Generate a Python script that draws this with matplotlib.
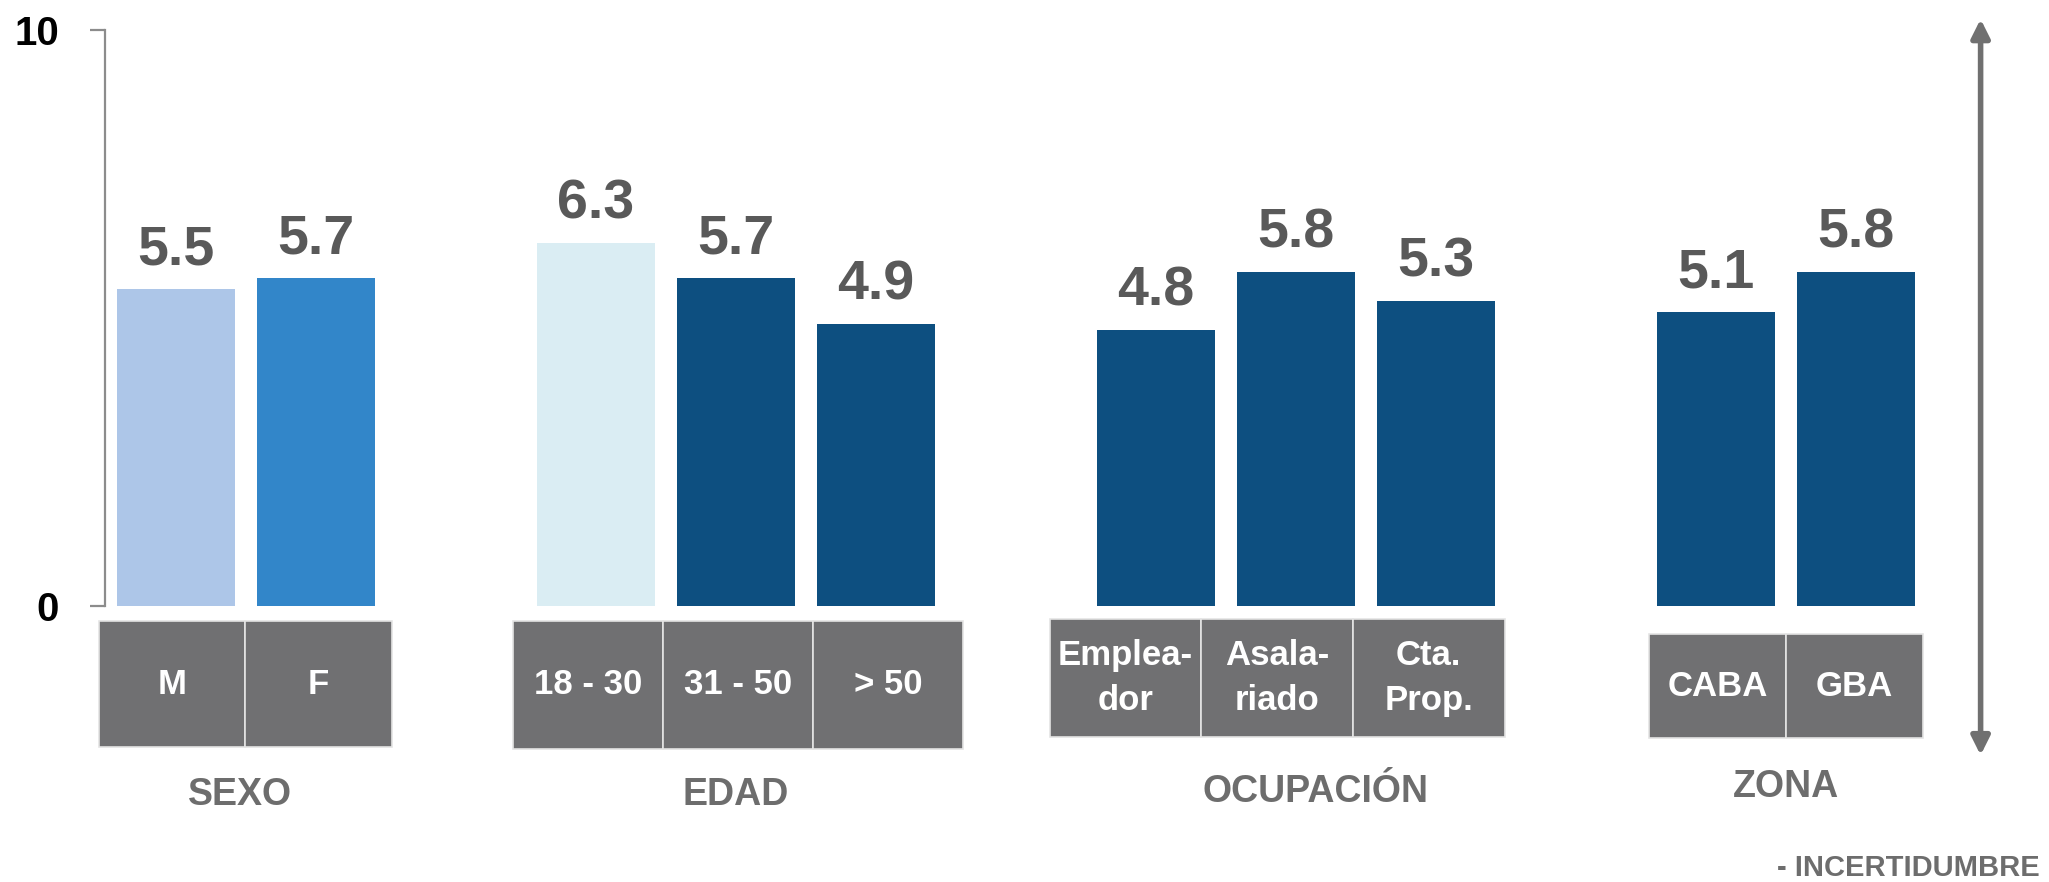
import matplotlib
matplotlib.use("Agg")
import matplotlib.pyplot as plt
from matplotlib.patches import Rectangle

plt.rcParams['font.family'] = ['Liberation Sans Narrow', 'Liberation Sans', 'DejaVu Sans']
plt.rcParams['font.weight'] = 'bold'

# data
groups = ['SEXO', 'EDAD', 'OCUPACIÓN', 'ZONA']
categories = [['M', 'F'],
              ['18 - 30', '31 - 50', '> 50'],
              ['Emplea-\ndor', 'Asala-\nriado', 'Cta.\nProp.'],
              ['CABA', 'GBA']]
values = [[5.5, 5.7],
          [6.3, 5.7, 4.9],
          [4.8, 5.8, 5.3],
          [5.1, 5.8]]
bar_colors = [['#adc6e8', '#3286c9'],
              ['#daedf3', '#0d4f80', '#0d4f80'],
              ['#0d4f80', '#0d4f80', '#0d4f80'],
              ['#0d4f80', '#0d4f80']]

# layout (data units: one slot per bar, one empty slot between groups)
box_x = [(-0.55, 1.54), (2.41, 5.62), (6.24, 9.49), (10.52, 12.48)]
box_y = [(-0.26, -2.45), (-0.26, -2.48), (-0.23, -2.27), (-0.49, -2.29)]
group_label_x = [0.46, 4.0, 8.14, 11.5]
group_label_y = [-3.28, -3.28, -3.23, -3.14]

W, H = 2049, 882
fig = plt.figure(figsize=(W / 100, H / 100), dpi=100)
ax = fig.add_axes([105 / W, (H - 606) / H, (W - 105) / W, 576 / H])

pos = 0
for g, (cats, vals, cols) in enumerate(zip(categories, values, bar_colors)):
    xs = list(range(pos, pos + len(vals)))
    bars = ax.bar(xs, vals, width=0.836, color=cols, zorder=2)
    ax.bar_label(bars, labels=[f'{v:.1f}' for v in vals], padding=9,
                 fontsize=40, color='#595959', fontweight='bold')

    # gray category boxes
    x0, x1 = box_x[g]
    ytop, ybot = box_y[g]
    cw = (x1 - x0) / len(cats)
    for i, c in enumerate(cats):
        ax.add_patch(Rectangle((x0 + i * cw, ybot), cw, ytop - ybot,
                               facecolor='#707072', edgecolor='#e4e4e4',
                               lw=1.2, clip_on=False, zorder=3))
        ax.text(x0 + (i + 0.5) * cw, (ytop + ybot) / 2, c, ha='center',
                va='center', color='white', fontsize=25, fontweight='bold',
                linespacing=1.45, clip_on=False, zorder=4)
    ax.text(group_label_x[g], group_label_y[g], groups[g], ha='center',
            va='center', color='#6d6d6d', fontsize=27, fontweight='bold')
    pos += len(vals) + 1

ax.set_xlim(-0.507, (W - 176) / 140)
ax.set_ylim(0, 10)

for s in ['top', 'right', 'bottom']:
    ax.spines[s].set_visible(False)
ax.spines['left'].set_color('#8c8c8c')
ax.spines['left'].set_linewidth(1.6)
ax.set_xticks([])
ax.set_yticks([0, 10])
ax.set_yticklabels(['0', '10'])
ax.tick_params(axis='y', length=11, width=1.6, color='#8c8c8c', pad=22,
               labelsize=29, labelcolor='black')
for lab in ax.get_yticklabels():
    lab.set_fontweight('bold')
    lab.set_family(['Liberation Sans', 'DejaVu Sans'])

# uncertainty arrow
ax.annotate('', xy=(12.89, 10.19), xytext=(12.89, -2.59),
            arrowprops=dict(arrowstyle='<|-|>,head_length=1.1,head_width=0.55',
                            color='#707070', lw=4, shrinkA=0, shrinkB=0),
            annotation_clip=False)

fig.text(2040 / W, 1 - 868 / H, '- INCERTIDUMBRE', ha='right', va='center',
         fontsize=21, fontweight='bold', color='#6d6d6d')

fig.savefig('out.png', dpi=100)
